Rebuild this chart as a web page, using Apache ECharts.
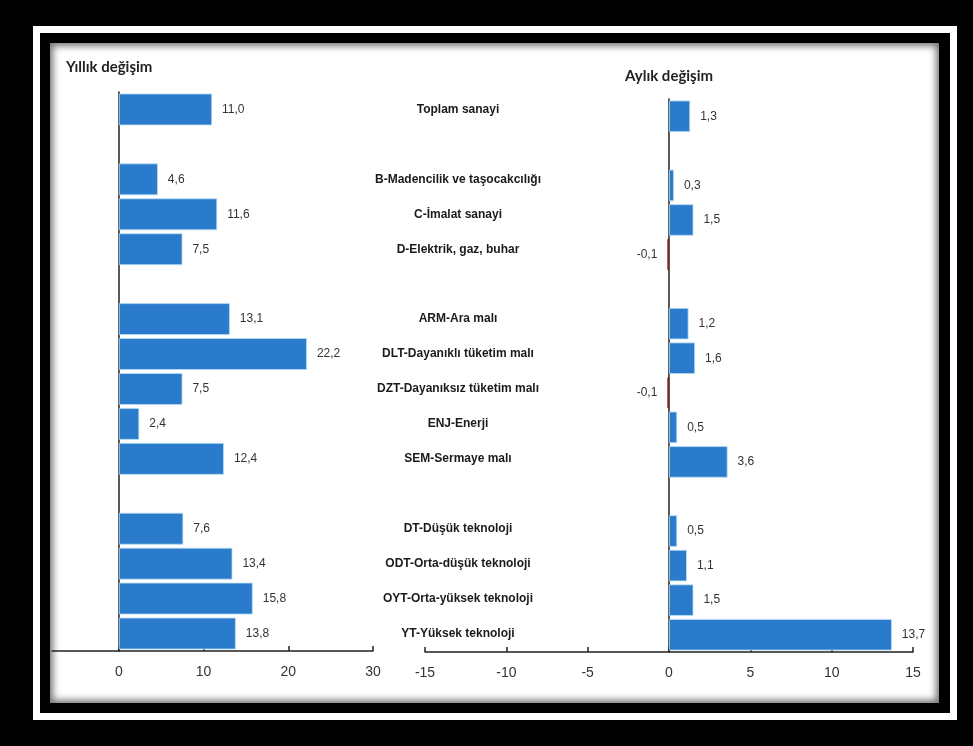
<!DOCTYPE html>
<html>
<head>
<meta charset="utf-8">
<script src="https://cdn.jsdelivr.net/npm/echarts@6/dist/echarts.min.js"></script>
<style>
  html, body { margin: 0; padding: 0; background: #000; width: 973px; height: 746px; overflow: hidden; }
  .frame { position: absolute; left: 33px; top: 26px; width: 924px; height: 694px; box-sizing: border-box; border: 7px solid #fff; background: #000; }
  .panel { position: absolute; left: 50px; top: 43px; width: 889px; height: 660px; background: #fff; box-shadow: inset 0 0 7px 3px rgba(0,0,0,0.55); }
  #chart { position: absolute; left: 0; top: 0; width: 973px; height: 746px; }
</style>
</head>
<body>
<div class="frame"></div>
<div class="panel"></div>
<div id="chart"></div>
<script>
// Rows of the chart, top to bottom; empty strings are spacer rows between groups
const categories = [
  'Toplam sanayi',
  '',
  'B-Madencilik ve taşocakcılığı',
  'C-İmalat sanayi',
  'D-Elektrik, gaz, buhar',
  '',
  'ARM-Ara malı',
  'DLT-Dayanıklı tüketim malı',
  'DZT-Dayanıksız tüketim malı',
  'ENJ-Enerji',
  'SEM-Sermaye malı',
  '',
  'DT-Düşük teknoloji',
  'ODT-Orta-düşük teknoloji',
  'OYT-Orta-yüksek teknoloji',
  'YT-Yüksek teknoloji'
];

// Annual change (%)
const yillik = [11.0, null, 4.6, 11.6, 7.5, null, 13.1, 22.2, 7.5, 2.4, 12.4, null, 7.6, 13.4, 15.8, 13.8];
// Monthly change (%)
const aylik = [1.3, null, 0.3, 1.5, -0.1, null, 1.2, 1.6, -0.1, 0.5, 3.6, null, 0.5, 1.1, 1.5, 13.7];

const leftTicks = [0, 10, 20, 30];
const rightTicks = [-15, -10, -5, 0, 5, 10, 15];

const BLUE = '#2a7bcb';
const RED = '#8b1c1c';
const FONT = '"Liberation Sans", Arial, sans-serif';

const fmt = v => v.toFixed(1).replace('.', ',');

function barData(values) {
  return values.map(v => {
    if (v === null) return null;
    const neg = v < 0;
    return {
      value: v,
      itemStyle: neg
        ? { color: RED, borderColor: RED, borderWidth: 1 }
        : { color: BLUE, borderColor: '#b9def5', borderWidth: 0.8 },
      label: { position: neg ? 'left' : 'right' }
    };
  });
}

const valueLabel = {
  show: true,
  distance: 10,
  fontFamily: FONT,
  fontSize: 12,
  color: '#333',
  formatter: p => fmt(p.value)
};

const axisLineStyle = { color: '#222', width: 1.5 };

const chart = echarts.init(document.getElementById('chart'), null, { renderer: 'canvas' });

chart.setOption({
  backgroundColor: 'transparent',
  animation: false,
  title: [
    { text: 'Yıllık değişim', left: 61, top: 55,
      textStyle: { fontFamily: 'Lato, sans-serif', fontWeight: 'bold', fontSize: 15, color: '#222' } },
    { text: 'Aylık değişim', left: 620, top: 64,
      textStyle: { fontFamily: 'Lato, sans-serif', fontWeight: 'bold', fontSize: 15, color: '#222' } }
  ],
  grid: [
    { left: 52, right: 600, top: 92, bottom: 95 },
    { left: 425, right: 60, top: 99, bottom: 94 }
  ],
  xAxis: [
    {
      type: 'value', gridIndex: 0, min: -7.9, max: 30,
      splitLine: { show: false },
      axisLine: { show: true, onZero: false, lineStyle: axisLineStyle },
      axisTick: { show: true, inside: true, length: 5, customValues: leftTicks, lineStyle: axisLineStyle },
      axisLabel: { customValues: leftTicks, margin: 14, fontFamily: FONT, fontSize: 14, color: '#333' }
    },
    {
      type: 'value', gridIndex: 1, min: -15, max: 15, interval: 5,
      splitLine: { show: false },
      axisLine: { show: true, onZero: false, lineStyle: axisLineStyle },
      axisTick: { show: true, inside: true, length: 5, lineStyle: axisLineStyle },
      axisLabel: { margin: 14, fontFamily: FONT, fontSize: 14, color: '#333',
        customValues: rightTicks }
    }
  ],
  yAxis: [
    {
      type: 'category', gridIndex: 0, data: categories, inverse: true,
      axisLine: { show: true, lineStyle: axisLineStyle },
      axisTick: { show: false },
      axisLabel: { show: false }
    },
    {
      // carries the row names, centred between the two panels
      type: 'category', gridIndex: 0, data: categories, inverse: true, position: 'right',
      axisLine: { show: false, onZero: false },
      axisTick: { show: false },
      axisLabel: { show: true, align: 'center', margin: 85, interval: 0,
        fontFamily: FONT, fontSize: 12, fontWeight: 'bold', color: '#1a1a1a' }
    },
    {
      type: 'category', gridIndex: 1, data: categories, inverse: true,
      axisLine: { show: true, lineStyle: axisLineStyle },
      axisTick: { show: false },
      axisLabel: { show: false }
    }
  ],
  series: [
    {
      name: 'Yıllık değişim', type: 'bar', xAxisIndex: 0, yAxisIndex: 0,
      data: barData(yillik), barCategoryGap: '9%',
      label: valueLabel
    },
    {
      name: 'Aylık değişim', type: 'bar', xAxisIndex: 1, yAxisIndex: 2,
      data: barData(aylik), barCategoryGap: '9%',
      label: valueLabel
    }
  ]
});
</script>
</body>
</html>
